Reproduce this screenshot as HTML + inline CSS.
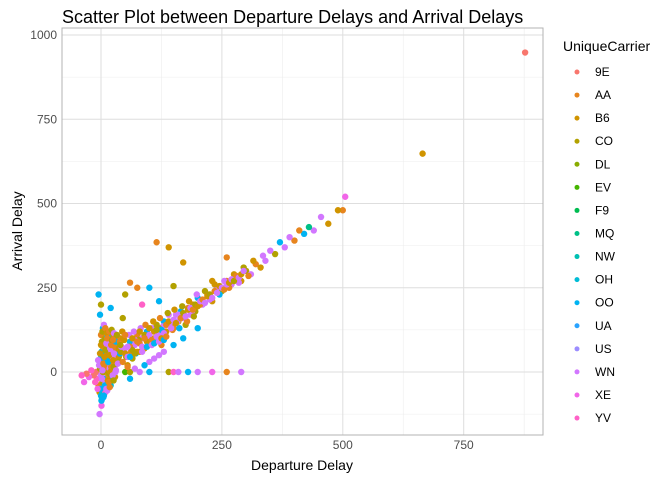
<!DOCTYPE html>
<html><head><meta charset="utf-8"><style>
body{margin:0;background:#fff;}
svg{display:block;font-family:"Liberation Sans",sans-serif;}
</style></head><body>
<svg id="chart" width="672" height="480" viewBox="0 0 672 480">
<text x="62" y="23" font-size="18" fill="#000">Scatter Plot between Departure Delays and Arrival Delays</text>
<g id="grid"></g>
<g id="points"></g>
<rect x="62" y="28" width="481" height="407" fill="none" stroke="#b3b3b3" stroke-width="1"/>
<g id="ticks"></g>
<text x="302" y="470" font-size="14" text-anchor="middle" fill="#000">Departure Delay</text>
<text x="22" y="231" font-size="14" text-anchor="middle" fill="#000" transform="rotate(-90 22 231)">Arrival Delay</text>
<text x="563" y="51" font-size="14" fill="#000">UniqueCarrier</text>
<g id="legend"></g>
</svg>
<script>
const carriers=["9E","AA","B6","CO","DL","EV","F9","MQ","NW","OH","OO","UA","US","WN","XE","YV"];
const colors=["#F8766D","#E7851E","#D09400","#B2A100","#89AC00","#45B500","#00BC51","#00C087","#00C0B2","#00BCD6","#00B3F2","#29A3FF","#9C8DFF","#D277FF","#F166E8","#FF61C7"];
const xTicks=[0,250,500,750];
const yTicks=[0,250,500,750,1000];
const xMinor=[125,375,625,875];
const yMinor=[-125,125,375,625,875];
const dep=[
-5,-3,0,2,5,-8,-10,-2,0,3,
5,2,0,4,8,10,12,15,10,8,
6,12,15,18,20,22,25,20,18,28,
30,32,35,30,28,25,20,-15,-20,-25,
-30,-40,-35,0,5,10,15,3,-4,-1,
1,6,9,14,17,21,24,27,33,36,
38,-6,-2,4,7,11,13,16,19,23,
26,29,31,34,37,39,2,5,9,1,
-3,7,0,3,6,9,12,-1,2,4,
14,17,22,27,32,8,11,16,19,24,
36,40,44,-7,-12,1,6,13,18,26,
3,5,7,9,11,13,15,17,19,21,
23,25,27,29,31,33,35,37,39,41,
45,50,55,60,65,70,75,80,85,90,
95,100,105,110,115,120,125,130,135,140,
145,150,155,160,165,170,175,180,185,190,
195,200,210,220,230,240,250,260,270,280,
290,300,310,320,330,340,360,380,400,420,
440,470,500,505,665,877,42,48,52,58,
62,68,72,78,82,88,92,98,102,108,
112,118,122,128,132,138,142,148,152,158,
162,168,172,178,182,188,192,198,205,215,
225,235,245,255,265,275,285,295,305,315,
335,350,370,390,410,430,455,490,50,100,
115,140,60,170,120,20,-5,-2,0,25,
45,75,85,150,230,260,30,50,60,80,
100,140,150,160,180,200,230,260,290,100,
120,150,200,70,90,130,170,110,60,55,
50,55,60,65,70,75,80,85,90,95,
100,105,110,115,120,125,130,135,140,145,
150,155,160,165,170,175,180,185,190,195,
200,205,210,215,220,225,230,235,240,245,
250,255,260,265,270,275,280,285,290,295,
40,45,50,55,60,65,70,75,80,85,
90,95,100,105,110,115,120,125,130,135];
const arr=[
-40,-60,-70,-80,-55,-20,0,10,30,50,
70,90,110,130,100,80,60,40,20,0,
-20,-30,-10,10,30,50,70,90,110,100,
80,60,40,20,0,-20,-40,-10,5,-15,
-5,-10,-30,-10,10,40,60,-30,20,40,
60,-45,-35,-25,-5,15,45,65,85,70,
50,35,55,75,95,120,105,85,65,25,
15,-15,5,35,45,55,-65,-75,-60,-100,
-125,20,80,120,140,130,115,-50,-20,0,
90,120,125,115,105,-40,-50,-30,0,-10,
30,100,120,-50,-30,-85,-70,-55,-45,-25,
5,25,45,65,85,100,30,50,70,80,
95,35,55,75,90,110,25,70,90,60,
30,70,20,90,40,80,110,60,100,70,
120,90,130,100,140,110,80,150,120,170,
140,130,170,150,180,160,140,190,170,200,
180,220,200,230,210,250,240,270,260,280,
270,300,290,320,310,330,350,370,390,410,
420,440,480,520,648,948,75,95,45,110,
60,120,55,95,130,70,140,105,85,150,
120,95,160,135,110,175,145,125,185,150,
130,195,170,150,210,180,165,230,200,240,
215,260,230,270,250,290,265,310,285,330,
345,360,385,400,420,430,460,480,230,250,
385,370,265,325,210,190,230,170,200,95,
160,250,200,255,270,340,0,0,0,0,
0,0,0,0,0,0,0,0,0,30,
50,80,130,10,20,60,100,40,-20,15,
55,45,75,65,95,60,85,75,110,90,
110,95,120,105,130,125,115,140,150,130,
155,145,170,160,175,165,185,190,185,200,
195,210,215,205,225,230,220,240,235,255,
250,245,260,265,275,270,285,280,290,300,
80,100,110,75,45,100,55,90,120,60,
100,75,130,80,85,125,90,100,95,105];
const carr=[
1,2,10,9,13,15,0,3,1,2,
13,3,1,10,2,13,1,3,13,2,
10,9,1,13,2,3,1,13,2,1,
13,3,2,13,1,10,9,0,15,14,
0,15,14,13,1,10,2,3,13,10,
9,1,13,2,3,1,13,2,10,3,
1,13,2,1,3,13,10,2,13,1,
3,2,13,1,2,10,9,10,15,14,
13,1,2,3,13,1,2,10,13,3,
2,1,3,13,2,10,13,1,2,13,
3,1,2,14,15,10,10,13,1,3,
13,1,2,3,13,1,10,2,13,1,
3,2,13,1,10,3,13,2,1,3,
1,13,2,10,3,13,1,2,13,3,
10,1,13,2,3,13,1,10,2,13,
3,1,13,2,10,13,3,1,13,2,
3,10,13,1,2,13,3,1,13,10,
2,3,13,1,2,13,3,13,1,10,
13,2,1,14,2,0,13,2,3,13,
1,13,10,3,13,2,1,13,3,2,
13,10,1,13,2,3,13,1,2,13,
10,3,13,1,2,13,3,13,1,3,
13,2,10,13,1,2,13,3,1,2,
13,13,10,13,1,7,13,2,3,10,
1,2,1,2,10,10,10,10,3,1,
3,1,15,3,2,1,13,5,3,13,
10,3,15,13,10,13,14,1,13,13,
13,10,10,13,10,13,10,13,10,1,
2,13,1,3,13,2,1,13,3,2,
13,1,2,13,3,10,13,1,2,13,
13,2,13,1,3,13,2,13,1,3,
2,13,1,13,2,3,13,1,13,2,
13,1,13,2,13,3,1,13,2,13,
3,2,1,13,10,2,3,1,2,13,
1,10,2,13,10,3,13,2,10,1];
const X=v=>101+v*0.4836, Y=v=>372-v*0.337;
const NS="http://www.w3.org/2000/svg";
const mk=(t,a,p)=>{const e=document.createElementNS(NS,t);for(const k in a)e.setAttribute(k,a[k]);p.appendChild(e);return e;};
const grid=document.getElementById('grid');
mk('rect',{x:62,y:28,width:481,height:407,fill:'#fff'},grid);
xMinor.forEach(v=>{const l=mk('line',{x1:X(v),x2:X(v),y1:28,y2:435,stroke:'#ededed','stroke-width':0.6},grid);

});
yMinor.forEach(v=>{const l=mk('line',{x1:62,x2:543,y1:Y(v),y2:Y(v),stroke:'#ededed','stroke-width':0.6},grid);

});
const ticks=document.getElementById('ticks');
xTicks.forEach(v=>{const l=mk('line',{x1:X(v),x2:X(v),y1:28,y2:435,stroke:'#dedede','stroke-width':1},grid);


const t=mk('text',{x:X(v),y:449,'font-size':12,'text-anchor':'middle',fill:'#4d4d4d'},ticks);t.textContent=v;

});
yTicks.forEach(v=>{const l=mk('line',{x1:62,x2:543,y1:Y(v),y2:Y(v),stroke:'#dedede','stroke-width':1},grid);


const t=mk('text',{x:57,y:Y(v)+4,'font-size':12,'text-anchor':'end',fill:'#4d4d4d'},ticks);t.textContent=v;

});
const pts=document.getElementById('points');
const n=Math.min(dep.length,arr.length,carr.length);
for(let i=0;i<n;i++){const ci=carr[i]%16;const c=mk('circle',{cx:X(dep[i]),cy:Y(arr[i]),r:3.2,fill:colors[ci]},pts);

}
const lg=document.getElementById('legend');
carriers.forEach((c,i)=>{const y=72+i*23.07;
const d=mk('circle',{cx:577,cy:y,r:2.5,fill:colors[i]},lg);


const t=mk('text',{x:595,y:y+4,'font-size':12,fill:'#000'},lg);t.textContent=c;

});
</script>
</body></html>
